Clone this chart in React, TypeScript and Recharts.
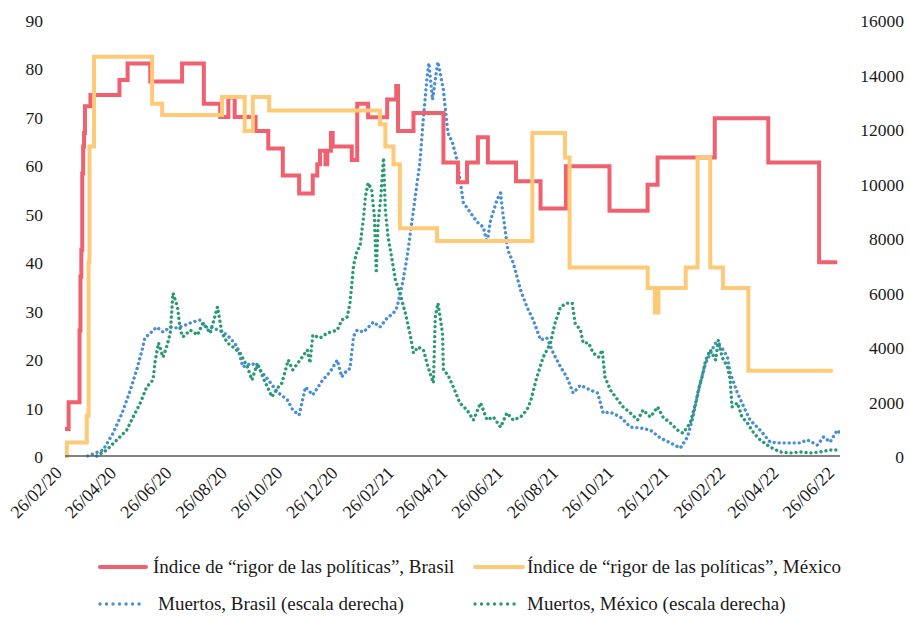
import React from 'react';
import { LineChart, Line, XAxis, YAxis } from 'recharts';

// day offsets from 26/02/20
const rigorBrasil: [number, number][] = [
  [0, 5.56], [4, 11.1], [16, 25.9], [17, 37], [18, 42.6], [19, 58.3], [20, 63.9], [21, 66.7],
  [22, 72.2], [28, 74.5], [60, 77.6], [69, 81], [94, 77.3], [129, 81], [153, 72.7], [171, 70],
  [180, 74], [187, 70], [210, 67.1], [224, 63.5], [240, 57.9], [258, 54.2], [273, 57.9],
  [278, 60.2], [281, 63], [287, 60.2], [289, 63], [293, 66.7], [295, 63.9], [316, 61.1],
  [322, 72.7], [334, 69.9], [355, 73.6], [365, 76.4], [367, 67.1], [384, 70.8], [417, 60.6],
  [433, 56.5], [443, 60.6], [455, 65.8], [466, 60.6], [497, 56.7], [524, 51.1], [552, 59.8],
  [600, 50.6], [642, 56], [653, 61.6], [716, 69.7], [775, 60.6], [831, 40], [851, 40],
];

const rigorMexico: [number, number][] = [
  [0, 0], [2, 2.78], [24, 8.3], [26, 40], [27, 63.9], [32, 82.4], [96, 72.7], [107, 70.4],
  [173, 74.1], [198, 67.1], [207, 74.1], [225, 71.3], [347, 68.5], [353, 63.9], [362, 60.2],
  [369, 47], [410, 44.4], [515, 66.7], [551, 61.6], [556, 38.9], [642, 34.7], [650, 29.6],
  [654, 34.7], [684, 38.9], [697, 61.6], [711, 38.9], [725, 34.7], [753, 17.6], [846, 17.6],
];

const muertosBrasil: [number, number][] = [
  [25, 0], [42, 220], [53, 840], [63, 1580], [72, 2420], [79, 3160], [85, 3890], [88, 4330],
  [94, 4510], [101, 4730], [108, 4550], [116, 4730], [123, 4700], [130, 4770], [141, 4920],
  [149, 4990], [156, 4730], [163, 4700], [174, 4550], [182, 4330], [190, 4000], [196, 3270],
  [206, 3410], [215, 3160], [224, 2790], [234, 2350], [245, 2060], [251, 1690], [258, 1500],
  [265, 2530], [273, 2240], [284, 2790], [292, 3080], [300, 3520], [305, 2900], [311, 3160],
  [314, 3200], [318, 4400], [322, 4620], [329, 4550], [340, 4920], [347, 4730], [355, 5060],
  [362, 5250], [366, 5470], [372, 6350], [377, 7300], [384, 9030], [391, 10750], [395, 12440],
  [399, 13910], [401, 14420], [405, 13070], [410, 14280], [411, 14460], [417, 13430],
  [422, 11850], [427, 11490], [432, 10860], [439, 9290], [447, 8920], [454, 8590], [461, 8400],
  [465, 7820], [469, 8660], [476, 9400], [480, 9650], [483, 8770], [488, 7560], [494, 7080],
  [502, 6090], [509, 5470], [516, 4990], [524, 4260], [531, 4330], [538, 3780], [546, 3270],
  [553, 2900], [560, 2310], [568, 2600], [579, 2420], [587, 2310], [593, 1580], [601, 1610],
  [612, 1430], [623, 1060], [634, 1030], [645, 950], [656, 660], [667, 480], [678, 290],
  [686, 700], [692, 1430], [700, 2680], [706, 3410], [713, 3890], [717, 4150], [724, 3960],
  [730, 3630], [733, 3050], [741, 2310], [748, 1800], [755, 1320], [766, 950], [777, 510],
  [788, 480], [799, 480], [810, 480], [818, 590], [829, 400], [836, 700], [843, 510],
  [851, 950], [854, 850],
];

const muertosMexico: [number, number][] = [
  [35, 0], [46, 220], [57, 590], [68, 950], [75, 1430], [83, 1950], [90, 2530], [97, 2790],
  [99, 3410], [103, 4150], [108, 3630], [112, 4000], [116, 4510], [119, 5980], [124, 5470],
  [127, 4620], [130, 4370], [138, 4620], [146, 4440], [152, 4880], [160, 4510], [165, 5100],
  [168, 5470], [173, 4510], [179, 4150], [185, 4000], [193, 3780], [201, 3270], [206, 2790],
  [212, 3410], [218, 2900], [228, 2170], [235, 2530], [239, 2680], [246, 3520], [251, 3160],
  [259, 3520], [267, 3890], [270, 3410], [273, 4440], [281, 4330], [289, 4510], [300, 4620],
  [305, 4990], [311, 5100], [314, 5610], [318, 7000], [322, 7560], [325, 7670], [329, 8770],
  [331, 9510], [334, 10020], [338, 9760], [341, 8770], [343, 6710], [345, 8550], [348, 9510],
  [351, 10940], [353, 9030], [356, 8040], [361, 7080], [364, 6460], [369, 5980], [375, 5250],
  [380, 4510], [384, 3780], [389, 4000], [395, 3890], [400, 3270], [406, 2680], [408, 5100],
  [411, 5610], [416, 4510], [417, 3160], [422, 2970], [428, 2530], [435, 1950], [443, 1690],
  [450, 1320], [458, 1950], [465, 1320], [472, 1430], [480, 1060], [487, 1580], [494, 1320],
  [502, 1430], [509, 1690], [513, 2000], [520, 2900], [527, 3630], [535, 4150], [540, 4880],
  [546, 5470], [553, 5610], [559, 5610], [562, 4880], [568, 4620], [571, 4150], [577, 4150],
  [582, 3780], [588, 3630], [592, 3890], [595, 2900], [601, 2420], [609, 2060], [615, 1800],
  [623, 1580], [631, 1320], [637, 1690], [645, 1430], [653, 1800], [659, 1430], [667, 1210],
  [675, 950], [681, 840], [689, 1210], [695, 1950], [698, 2420], [702, 2900], [706, 3520],
  [711, 3890], [717, 3520], [720, 4260], [724, 3630], [730, 3270], [733, 2790], [735, 1800],
  [741, 1950], [746, 1430], [752, 1210], [759, 840], [766, 590], [777, 330], [788, 150],
  [799, 110], [810, 150], [821, 110], [832, 150], [843, 220], [854, 220],
];

const xTickLabels = [
  '26/02/20', '26/04/20', '26/06/20', '26/08/20', '26/10/20', '26/12/20', '26/02/21',
  '26/04/21', '26/06/21', '26/08/21', '26/10/21', '26/12/21', '26/02/22', '26/04/22', '26/06/22',
];
const leftTicks = [0, 10, 20, 30, 40, 50, 60, 70, 80, 90];
const rightTicks = [0, 2000, 4000, 6000, 8000, 10000, 12000, 14000, 16000];

const dayOf = (label: string) => {
  const [d, m, y] = label.split('/').map(Number);
  return Math.round((Date.UTC(2000 + y, m - 1, d) - Date.UTC(2020, 1, 26)) / 86400000);
};
const xTicks = xTickLabels.map(dayOf);
const toRows = (pts: [number, number][]) => pts.map(([day, v]) => ({ day, v }));

const RED = '#F0616F';
const YELLOW = '#FFCA78';
const BLUE = '#4A8FD6';
const GREEN = '#2A9A76';
const FONT = '"Liberation Serif", "DejaVu Serif", serif';
const TEXT = '#1a1a1a';
const AXIS_Y = 456;

const XTick = ({ x, payload }: any) => {
  const label = xTickLabels[xTicks.indexOf(payload.value)];
  const ax = x - 2;
  const ay = AXIS_Y + 18;
  return (
    <text x={ax} y={ay} transform={`rotate(-45, ${ax}, ${ay})`} textAnchor="end"
      fontSize={18} fontFamily={FONT} fill={TEXT}>
      {label}
    </text>
  );
};

const LeftTick = ({ y, payload }: any) => (
  <text x={43} y={y + 1} textAnchor="end" dominantBaseline="central" fontSize={17.5} fontFamily={FONT} fill={TEXT}>
    {payload.value}
  </text>
);

const RightTick = ({ y, payload }: any) => (
  <text x={904} y={y + 1} textAnchor="end" dominantBaseline="central" fontSize={17.5} fontFamily={FONT} fill={TEXT}>
    {payload.value}
  </text>
);

const LegendItem = ({ left, top, color, dotted, width, gap, label }: any) => (
  <div style={{ position: 'absolute', left, top, display: 'flex', alignItems: 'center', whiteSpace: 'nowrap' }}>
    <svg width={width} height={8} style={{ marginRight: gap }}>
      {dotted ? (
        <line x1={2} y1={4} x2={width - 2} y2={4} stroke={color} strokeWidth={3.4}
          strokeLinecap="round" strokeDasharray="0.01 6.5" />
      ) : (
        <line x1={2} y1={4} x2={width - 2} y2={4} stroke={color} strokeWidth={4} strokeLinecap="round" />
      )}
    </svg>
    <span style={{ fontFamily: FONT, fontSize: 19, color: TEXT, lineHeight: '22px' }}>{label}</span>
  </div>
);

export default function App() {
  return (
    <div style={{ position: 'absolute', left: 0, top: 0, width: 909, height: 617, background: '#fff' }}>
      <LineChart width={909} height={617} margin={{ top: 20, right: 0, bottom: 0, left: 0 }}>
        <XAxis
          dataKey="day"
          type="number"
          domain={[0, 854]}
          ticks={xTicks}
          interval={0}
          allowDataOverflow
          height={161}
          tickLine={false}
          axisLine={{ stroke: '#595959', strokeWidth: 1.5 }}
          tick={<XTick />}
        />
        <YAxis yAxisId="left" domain={[0, 90]} ticks={leftTicks} width={65}
          axisLine={false} tickLine={false} tick={<LeftTick />} />
        <YAxis yAxisId="right" orientation="right" domain={[0, 16000]} ticks={rightTicks} width={69}
          axisLine={false} tickLine={false} tick={<RightTick />} />
        <Line yAxisId="right" data={toRows(muertosBrasil)} dataKey="v" type="linear" stroke={BLUE}
          strokeWidth={3.4} strokeLinecap="round" strokeDasharray="0.01 5" dot={false} isAnimationActive={false} />
        <Line yAxisId="right" data={toRows(muertosMexico)} dataKey="v" type="linear" stroke={GREEN}
          strokeWidth={3.4} strokeLinecap="round" strokeDasharray="0.01 5" dot={false} isAnimationActive={false} />
        <Line yAxisId="left" data={toRows(rigorBrasil)} dataKey="v" type="stepAfter" stroke={RED}
          strokeWidth={4} dot={false} isAnimationActive={false} />
        <Line yAxisId="left" data={toRows(rigorMexico)} dataKey="v" type="stepAfter" stroke={YELLOW}
          strokeWidth={4} dot={false} isAnimationActive={false} />
      </LineChart>
      <LegendItem left={98} top={556} color={RED} width={50} gap={5}
        label={'Índice de “rigor de las políticas”, Brasil'} />
      <LegendItem left={473} top={556} color={YELLOW} width={52} gap={2}
        label={'Índice de “rigor de las políticas”, México'} />
      <LegendItem left={98} top={593} color={BLUE} dotted width={48} gap={12}
        label={'Muertos, Brasil (escala derecha)'} />
      <LegendItem left={473} top={593} color={GREEN} dotted width={48} gap={6}
        label={'Muertos, México (escala derecha)'} />
    </div>
  );
}
